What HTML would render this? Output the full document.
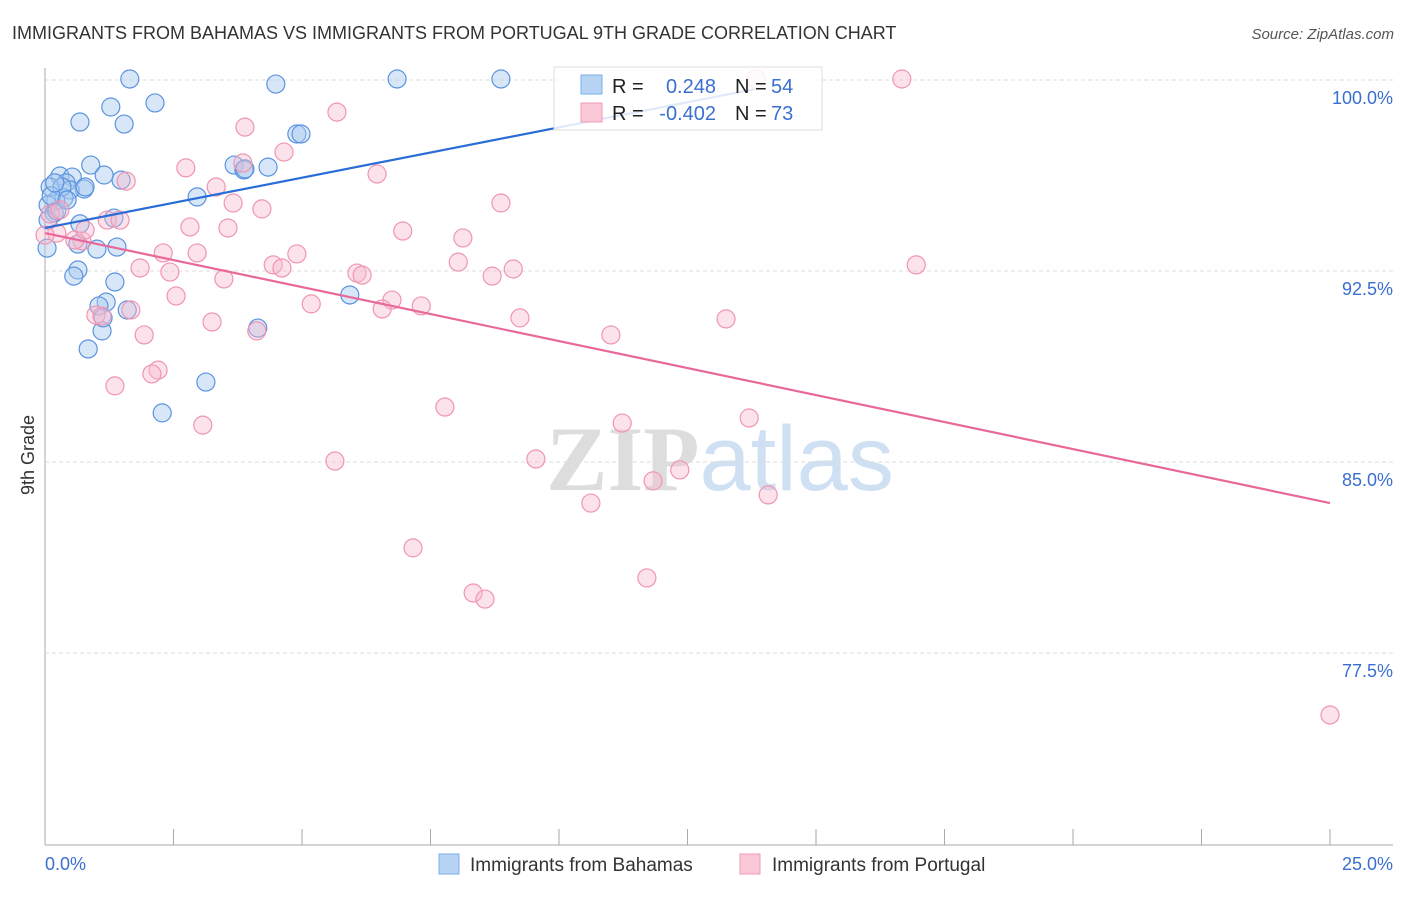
<!DOCTYPE html>
<html><head><meta charset="utf-8">
<style>
body{margin:0;background:#fff;font-family:"Liberation Sans",sans-serif;}
svg text{font-family:"Liberation Sans",sans-serif;}
</style></head>
<body>
<svg id="chart" width="1406" height="892" xmlns="http://www.w3.org/2000/svg">
<text x="12" y="39" font-size="18" fill="#333">IMMIGRANTS FROM BAHAMAS VS IMMIGRANTS FROM PORTUGAL 9TH GRADE CORRELATION CHART</text>
<text x="1394" y="39" font-size="15" fill="#555" text-anchor="end" font-style="italic">Source: ZipAtlas.com</text>
<text x="720" y="490" font-size="92" text-anchor="middle"><tspan fill="#ddd" font-family="Liberation Serif" font-weight="bold">ZIP</tspan><tspan fill="#cfe0f3">atlas</tspan></text>
<g id="grid"></g>
<g id="axes"></g>
<g id="pts"></g>
<g id="lines"></g>
<g>
<rect x="554" y="67" width="268" height="63" fill="#fff" fill-opacity="0.85" stroke="#ddd"/>
<rect x="581" y="75" width="21" height="19" fill="#b8d4f5" stroke="#7aaee8"/>
<rect x="581" y="103" width="21" height="19" fill="#fbc8d8" stroke="#f19bb5"/>
<text x="612" y="93" font-size="20" fill="#222">R =</text>
<text x="716" y="93" font-size="20" fill="#3a6fd0" text-anchor="end">0.248</text>
<text x="735" y="93" font-size="20" fill="#222">N =</text>
<text x="771" y="93" font-size="20" fill="#3a6fd0">54</text>
<text x="612" y="120" font-size="20" fill="#222">R =</text>
<text x="716" y="120" font-size="20" fill="#3a6fd0" text-anchor="end">-0.402</text>
<text x="735" y="120" font-size="20" fill="#222">N =</text>
<text x="771" y="120" font-size="20" fill="#3a6fd0">73</text>
</g>
<g>
<rect x="439" y="854" width="20" height="20" fill="#b8d4f5" stroke="#7aaee8"/>
<text x="470" y="871" font-size="19" fill="#333">Immigrants from Bahamas</text>
<rect x="740" y="854" width="20" height="20" fill="#fbc8d8" stroke="#f19bb5"/>
<text x="772" y="871" font-size="19" fill="#333">Immigrants from Portugal</text>
</g>
<text transform="translate(34,455) rotate(-90)" font-size="18" fill="#333" text-anchor="middle">9th Grade</text>
</svg>
<script>
const xTicks=[0,2.5,5,7.5,10,12.5,15,17.5,20,22.5,25];
const yTicks=[100,92.5,85,77.5];
const yTickLabels=["100.0%","92.5%","85.0%","77.5%"];
const blueX=[1.65,4.49,6.85,8.87,1.28,2.14,0.68,1.54,4.90,4.98,0.89,3.68,4.34,3.87,0.29,0.53,1.15,1.48,0.41,0.76,0.49,0.10,2.96,0.37,0.21,0.06,1.34,0.18,0.68,0.06,0.64,1.40,1.01,0.04,0.64,0.56,1.36,5.93,1.19,1.05,1.60,4.14,1.11,0.84,3.13,2.28,3.89,0.23,0.33,0.12,1.13,0.43,0.78,0.19];
const blueY=[100.04,99.84,100.04,100.04,98.94,99.10,98.35,98.27,97.88,97.88,96.66,96.66,96.58,96.47,96.23,96.19,96.27,96.07,95.96,95.72,95.68,95.80,95.41,95.37,95.25,95.09,94.58,94.78,94.35,94.50,93.56,93.44,93.36,93.40,92.54,92.30,92.07,91.56,91.28,91.13,90.97,90.26,90.15,89.44,88.14,86.93,96.51,94.86,95.80,95.45,90.66,95.29,95.80,95.96];
const pinkX=[13.83,16.67,5.68,3.89,4.65,2.74,3.85,1.58,6.46,3.33,3.66,4.22,8.87,1.21,1.46,2.82,3.56,6.96,8.13,0.72,2.30,2.96,4.90,1.85,2.43,4.44,4.61,6.07,6.17,8.04,9.11,8.70,16.95,3.48,2.55,5.18,6.75,6.56,7.32,1.67,0.99,1.11,3.25,9.24,13.25,4.12,1.93,11.01,2.20,2.08,1.36,3.07,7.78,11.23,13.70,5.64,9.55,12.35,11.83,14.07,10.62,7.16,11.71,8.33,8.56,25.0,0.23,0.10,0.58,0.29,0,0.78];
const pinkY=[100.04,100.04,98.74,98.15,97.17,96.55,96.74,96.03,96.31,95.80,95.17,94.94,95.17,94.50,94.50,94.23,94.19,94.07,93.80,93.68,93.21,93.21,93.17,92.62,92.46,92.74,92.62,92.42,92.34,92.85,92.58,92.30,92.74,92.19,91.52,91.21,91.36,91.01,91.13,90.97,90.77,90.73,90.50,90.66,90.62,90.15,89.99,89.99,88.61,88.46,87.99,86.45,87.16,86.53,86.73,85.04,85.12,84.69,84.26,83.71,83.39,81.63,80.45,79.86,79.62,75.07,93.99,94.74,93.72,94.90,93.91,94.11];
const blueTrend=[94.19,0.395];   // intercept, slope per %
const blueTrendEnd=13.8;
const pinkTrend=[93.99,-0.424];
const pinkTrendEnd=25;
const X=v=>45+v*51.4;
const Y=v=>80+(100-v)*25.47;
const NS="http://www.w3.org/2000/svg";
function mk(tag,attrs,parent){const e=document.createElementNS(NS,tag);for(const k in attrs)e.setAttribute(k,attrs[k]);parent.appendChild(e);return e;}
const grid=document.getElementById('grid'),axes=document.getElementById('axes'),pts=document.getElementById('pts'),lines=document.getElementById('lines');
yTicks.forEach((t,i)=>{
 const l=mk('line',{x1:45,x2:1393,y1:Y(t),y2:Y(t),stroke:'#ddd','stroke-dasharray':'4,3'},grid);
 
 
 const tx=mk('text',{x:1393,y:Y(t)+24,'font-size':18,fill:'#3a6fd0','text-anchor':'end'},grid);
 tx.textContent=yTickLabels[i];
 
 
});
const ya=mk('line',{x1:45,x2:45,y1:68,y2:845,stroke:'#aaa'},axes);


const xa=mk('line',{x1:45,x2:1393,y1:845,y2:845,stroke:'#aaa'},axes);


xTicks.forEach(t=>{
 const l=mk('line',{x1:X(t),x2:X(t),y1:829,y2:845,stroke:'#aaa'},axes);
 
 
});
const xl0=mk('text',{x:45,y:870,'font-size':18,fill:'#3a6fd0'},axes);xl0.textContent='0.0%';


const xl1=mk('text',{x:1393,y:870,'font-size':18,fill:'#3a6fd0','text-anchor':'end'},axes);xl1.textContent='25.0%';


blueX.forEach((x,i)=>{
 const c=mk('circle',{cx:X(x),cy:Y(blueY[i]),r:9,fill:'#a9c9f0','fill-opacity':0.45,stroke:'#5b93e0','stroke-width':1.2},pts);
 
 
});
pinkX.forEach((x,i)=>{
 const c=mk('circle',{cx:X(x),cy:Y(pinkY[i]),r:9,fill:'#f8b8cc','fill-opacity':0.4,stroke:'#f095b2','stroke-width':1.2},pts);
 
 
});
const bl=mk('line',{x1:X(0),y1:Y(blueTrend[0]),x2:X(blueTrendEnd),y2:Y(blueTrend[0]+blueTrend[1]*blueTrendEnd),stroke:'#2a6dd6','stroke-width':2.2},lines);


const pl=mk('line',{x1:X(0),y1:Y(pinkTrend[0]),x2:X(pinkTrendEnd),y2:Y(pinkTrend[0]+pinkTrend[1]*pinkTrendEnd),stroke:'#e8689a','stroke-width':2.2},lines);


</script>
</body></html>
